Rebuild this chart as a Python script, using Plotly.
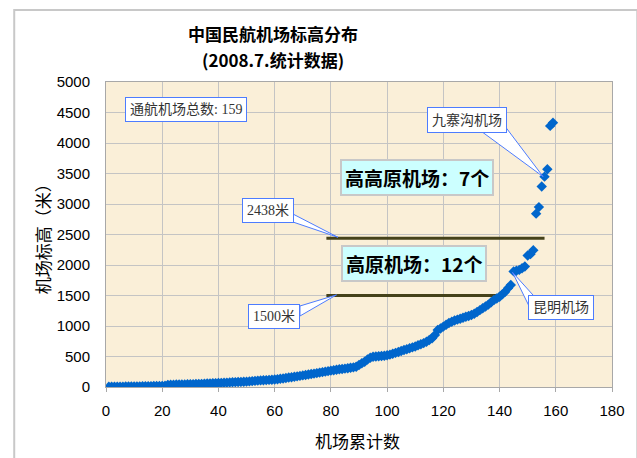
import plotly.graph_objects as go

# ---------------- data ----------------
airport_rank = list(range(1, 160))
elevation_m = [
    3, 4, 4, 5, 5, 6, 7, 8, 9, 10, 10, 11, 12, 13, 14, 15, 16, 17, 18, 19, 20,
    35, 36, 38, 40, 41, 42, 43, 44, 45, 47, 48, 50, 52, 55,
    58, 60, 62, 64, 66, 68, 70, 72, 75, 78, 80, 82, 84, 86, 88,
    92, 96, 100, 104, 108, 110, 113, 116, 120, 123, 126,
    135, 140, 148, 155, 160, 168, 175, 182, 190, 197,
    205, 212, 220, 228, 236, 244, 252, 260, 268, 275,
    282, 290, 296, 302, 308, 315, 322, 333,
    360, 390, 415, 450, 480, 497,
    500, 505, 508, 512, 520, 530, 545, 560, 575, 590, 607,
    620, 635, 650, 665, 685, 700, 720, 743, 770, 800, 852,
    934, 960, 990, 1020, 1050, 1070, 1090, 1105, 1120, 1135, 1152,
    1165, 1180, 1200, 1230, 1260, 1290, 1320, 1350, 1390, 1426, 1450, 1480,
    1520, 1560, 1620, 1672, 1895, 1905, 1920, 1947, 1976, 2155, 2178, 2243,
    2842, 2949, 3288, 3448, 3569, 4280, 4334,
]

high_plateau_level = 2438
high_plateau_x = [78.4, 156]
plateau_level = 1500
plateau_x = [78.4, 141.2]

x_ticks = [0, 20, 40, 60, 80, 100, 120, 140, 160, 180]
y_ticks = [0, 500, 1000, 1500, 2000, 2500, 3000, 3500, 4000, 4500, 5000]

title_line1 = "中国民航机场标高分布"
title_line2 = "(2008.7.统计数据)"
x_title = "机场累计数"
y_title = "机场标高（米）"

SERIF = "Liberation Serif, Noto Sans CJK SC, serif"
SANS = "Liberation Sans, Arial, sans-serif"
CJK = "Noto Sans CJK SC, sans-serif"
CALLOUT_LINE = "#4D7CFF"

# plot-area geometry in pixels (used only to place free text in paper coords)
PLOT_LEFT, PLOT_W, PLOT_TOP, PLOT_H = 105.5, 515.5, 82, 305

def paper_x(px):
    return (px - PLOT_LEFT) / PLOT_W

def paper_y(py):
    return (PLOT_TOP + PLOT_H - py) / PLOT_H

fig = go.Figure()

# reference lines
fig.add_trace(go.Scatter(x=high_plateau_x, y=[high_plateau_level] * 2, mode="lines",
                         line=dict(color="#45421A", width=3), hoverinfo="skip"))
fig.add_trace(go.Scatter(x=plateau_x, y=[plateau_level] * 2, mode="lines",
                         line=dict(color="#45421A", width=3), hoverinfo="skip"))

# airports
fig.add_trace(go.Scatter(x=airport_rank, y=elevation_m, mode="markers",
                         marker=dict(symbol="diamond", size=8, color="#0066CC",
                                     line=dict(width=0))))

# callout wedges (drawn under annotation boxes)
def wedge(p1, p2, tip):
    path = f"M {p1[0]},{p1[1]} L {tip[0]},{tip[1]} L {p2[0]},{p2[1]} Z"
    fig.add_shape(type="path", path=path, xref="x", yref="y",
                  fillcolor="white", line=dict(color=CALLOUT_LINE, width=1),
                  layer="above")

wedge((66.5, 2836), (66.5, 2705), (82.5, 2455))
wedge((69.0, 1328), (69.0, 1164), (82.0, 1510))
wedge((131.9, 4246), (142.4, 4246), (155.5, 3448))
wedge((153.5, 1426), (150.3, 1344), (144.6, 1880))

def callout(text, x, y, size=14):
    fig.add_annotation(x=x, y=y, xref="x", yref="y", text=text, showarrow=False,
                       font=dict(family=SERIF, size=size, color="#333333"),
                       bgcolor="white", bordercolor=CALLOUT_LINE, borderwidth=1,
                       borderpad=4)

callout("通航机场总数: 159", 28.6, 4557)
callout("2438米", 57.6, 2889)
callout("1500米", 59.7, 1152)
callout("九寨沟机场", 128.3, 4377)
callout("昆明机场", 161.7, 1303)

def label_box(text, x, y):
    fig.add_annotation(x=x, y=y, xref="x", yref="y", text=f"<b>{text}</b>",
                       showarrow=False,
                       font=dict(family=CJK, size=19, color="black"),
                       bgcolor="#CCFFFF", bordercolor="#C8C8C8", borderwidth=2,
                       borderpad=3)

label_box("高高原机场：7个", 110.8, 3431)
label_box("高原机场：12个", 109.7, 2028)

# title (two lines)
for txt, ypx in ((title_line1, 34), (title_line2, 59)):
    fig.add_annotation(x=paper_x(276), y=paper_y(ypx), xref="paper", yref="paper",
                       text=f"<b>{txt}</b>", showarrow=False,
                       font=dict(family=CJK, size=17, color="black"),
                       xanchor="center", yanchor="middle")

# axis titles
fig.add_annotation(x=paper_x(362), y=paper_y(440), xref="paper", yref="paper", text=x_title,
                   showarrow=False, font=dict(family=CJK, size=17, color="black"),
                   xanchor="center", yanchor="middle")
fig.add_annotation(x=paper_x(41), y=0.5, xref="paper", yref="paper", text=y_title,
                   showarrow=False, textangle=-90,
                   font=dict(family=CJK, size=17, color="black"),
                   xanchor="center", yanchor="middle")

# outer chart border
fig.add_shape(type="rect", xref="paper", yref="paper",
              x0=paper_x(12), x1=1.05, y0=-0.3, y1=paper_y(10),
              line=dict(color="#C8C8C8", width=2), fillcolor="rgba(0,0,0,0)",
              layer="below")

fig.update_layout(
    width=637, height=458,
    margin=dict(l=PLOT_LEFT, r=16, t=PLOT_TOP, b=71),
    paper_bgcolor="white",
    plot_bgcolor="#FAEFD8",
    showlegend=False,
)

fig.update_xaxes(range=[0, 180], tickvals=x_ticks, showgrid=True, gridcolor="#C4C4C4",
                 gridwidth=1, zeroline=False, showline=True, linecolor="#A8A8A8",
                 linewidth=1, mirror=True, ticks="outside", ticklen=4,
                 tickcolor="#A8A8A8", tickfont=dict(family=SANS, size=15, color="black"),
                 ticklabelstandoff=6)
fig.update_yaxes(range=[0, 5000], tickvals=y_ticks, showgrid=True, gridcolor="#C4C4C4",
                 gridwidth=1, zeroline=False, showline=True, linecolor="#A8A8A8",
                 linewidth=1, mirror=True, ticks="", ticklen=0,
                 tickfont=dict(family=SANS, size=15, color="black"),
                 ticklabelstandoff=12)

fig.write_html("out.html")
